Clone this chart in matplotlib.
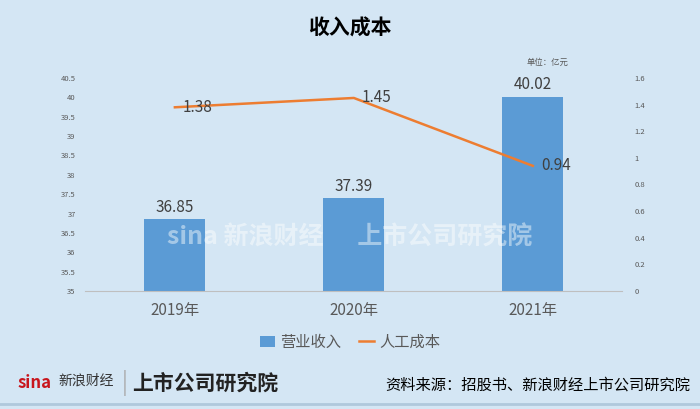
import matplotlib.pyplot as plt
import numpy as np

plt.rcParams['font.family'] = ['Noto Sans CJK SC', 'DejaVu Sans']

# 数据
years = ['2019年', '2020年', '2021年']
revenue = [36.85, 37.39, 40.02]
labor_cost = [1.38, 1.45, 0.94]
left_ticks = [35, 35.5, 36, 36.5, 37, 37.5, 38, 38.5, 39, 39.5, 40, 40.5]
right_ticks = [0, 0.2, 0.4, 0.6, 0.8, 1, 1.2, 1.4, 1.6]

bg = '#d4e6f4'
bar_color = '#5b9bd5'
line_color = '#ed7d31'
text_color = '#404040'

fig = plt.figure(figsize=(7, 4.09), dpi=100, facecolor=bg)
ax = fig.add_axes([0.122, 0.2885, 0.767, 0.5208])
ax.set_facecolor(bg)
x = np.arange(len(years))

bars = ax.bar(x, revenue, width=0.34, color=bar_color, label='营业收入', zorder=2)
ax.set_ylim(35, 40.5)
ax.set_xlim(-0.5, 2.5)
ax.set_yticks(left_ticks)
ax.set_yticklabels([f'{t:g}' for t in left_ticks], fontsize=5.5, color='#595959')
ax.set_xticks(x)
ax.set_xticklabels(years, fontsize=11, color='#595959')
ax.tick_params(length=0, pad=8)
ax.tick_params(axis='y', pad=7)
for s in ['top', 'right', 'left']:
    ax.spines[s].set_visible(False)
ax.spines['bottom'].set_color('#bfbfbf')
ax.spines['bottom'].set_linewidth(0.8)

for xi, v in zip(x, revenue):
    ax.text(xi, v + 0.08, f'{v:.2f}', ha='center', va='bottom', fontsize=11, color=text_color, zorder=5)

ax2 = ax.twinx()
ax2.plot(x, labor_cost, color=line_color, lw=1.8, label='人工成本', zorder=3)
ax2.set_ylim(0, 1.6)
ax2.set_yticks(right_ticks)
ax2.set_yticklabels([f'{t:g}' for t in right_ticks], fontsize=5.5, color='#595959')
ax2.tick_params(length=0, pad=9)
for s in ax2.spines.values():
    s.set_visible(False)
for xi, v in zip(x, labor_cost):
    ax2.text(xi + 0.045, v, f'{v:.2f}', ha='left', va='center', fontsize=11, color=text_color, zorder=5)

# 图例
h1, l1 = ax.get_legend_handles_labels()
h2, l2 = ax2.get_legend_handles_labels()
fig.legend(h1 + h2, l1 + l2, loc='center', bbox_to_anchor=(0.5, 1 - 342 / 409), ncol=2,
           frameon=False, labelcolor='#595959', handlelength=1.0,
           handletextpad=0.3, columnspacing=1.2, prop={'size': 11})

# 标题和单位
fig.text(0.5, 1 - 28 / 409, '收入成本', ha='center', va='center', fontsize=15, fontweight='bold', color='black')
fig.text(548 / 700, 1 - 62 / 409, '单位：亿元', ha='center', va='center', fontsize=6, color='#595959')

# 水印
fig.text(0.5, 1 - 238 / 409, 'sina 新浪财经      上市公司研究院', ha='center', va='center', fontsize=18,
         fontweight='bold', color='white', alpha=0.45, zorder=10)

# 底部
fig.text(18 / 700, 1 - 383 / 409, 'sina', fontsize=12, fontweight='bold', style='italic', color='#c8161d', va='center')
fig.text(58 / 700, 1 - 381 / 409, '新浪财经', fontsize=10, color='#333333', va='center')
fig.text(122 / 700, 1 - 383 / 409, '|', fontsize=16, color='#aaaaaa', va='center')
fig.text(132 / 700, 1 - 383 / 409, '上市公司研究院', fontsize=15, fontweight='bold', style='italic', color='#222222', va='center')
fig.text(690 / 700, 1 - 385 / 409, '资料来源：招股书、新浪财经上市公司研究院', ha='right', va='center', fontsize=11, color='black')
fig.add_artist(plt.Line2D([0, 1], [1 - 404 / 409] * 2, color='#b0c8dc', lw=2))

fig.savefig('out.png', dpi=100, facecolor=bg)
